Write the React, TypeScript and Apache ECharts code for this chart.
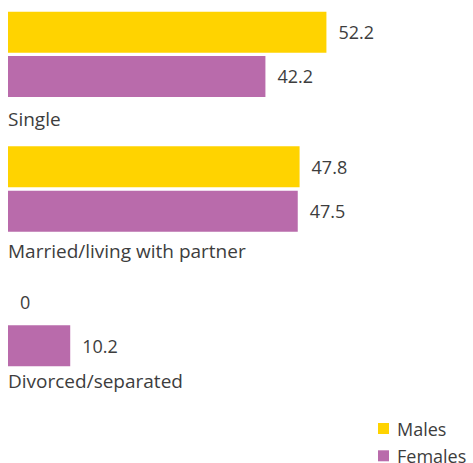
import React, { useEffect, useRef } from "react";
import * as echarts from "echarts";

const categories = ["Single", "Married/living with partner", "Divorced/separated"];
const males = [52.2, 47.8, 0];
const females = [42.2, 47.5, 10.2];
const seriesNames = ["Males", "Females"];

const FONT = "Open Sans";
const TEXT = "#3d3d3d";
const labelPad = [110, 105.2, 96.4];

export default function App() {
  const ref = useRef<HTMLDivElement>(null);
  useEffect(() => {
    document.body.style.margin = "0";
    const chart = echarts.init(ref.current!, undefined, { renderer: "svg" });
    const rich: Record<string, any> = {};
    labelPad.forEach((p, i) => {
      rich["c" + i] = {
        fontFamily: FONT,
        fontSize: 19,
        lineHeight: 19,
        color: TEXT,
        padding: [p, 0, 0, 0],
      };
    });
    chart.setOption({
      animation: false,
      textStyle: { fontFamily: FONT },
      grid: { left: 8, top: -13, width: 366, height: 404, outerBoundsMode: "none", containLabel: false },
      xAxis: {
        type: "value",
        min: 0,
        max: 60,
        show: false,
      },
      yAxis: {
        type: "category",
        data: categories,
        inverse: true,
        axisLine: { show: false },
        axisTick: { show: false },
        splitLine: { show: false },
        axisLabel: {
          inside: true,
          margin: 0,
          align: "left",
          verticalAlign: "top",
          formatter: (v: string, i: number) => `{c${i}|${v}}`,
          rich,
        },
      },
      legend: {
        data: seriesNames,
        orient: "vertical",
        left: 378,
        top: 419.5,
        height: 60,
        padding: 0,
        itemWidth: 11,
        itemHeight: 11,
        itemGap: 9.3,
        icon: "rect",
        textStyle: {
          fontFamily: FONT,
          fontSize: 18,
          lineHeight: 18,
          color: TEXT,
          padding: [0, 0, 0, 3],
        },
      },
      series: [
        {
          name: seriesNames[0],
          type: "bar",
          data: males,
          barWidth: 41,
          barGap: "8%",
          itemStyle: { color: "#FFD300" },
          label: {
            show: true,
            position: "right",
            distance: 12,
            fontFamily: FONT,
            fontSize: 18,
            color: TEXT,
          },
        },
        {
          name: seriesNames[1],
          type: "bar",
          data: females,
          barWidth: 41,
          barGap: "8%",
          itemStyle: { color: "#B96BAB" },
          label: {
            show: true,
            position: "right",
            distance: 12,
            fontFamily: FONT,
            fontSize: 18,
            color: TEXT,
          },
        },
      ],
    });
    return () => chart.dispose();
  }, []);
  return (
    <div
      ref={ref}
      style={{ position: "absolute", left: 0, top: 0, width: 473, height: 463 }}
    />
  );
}
